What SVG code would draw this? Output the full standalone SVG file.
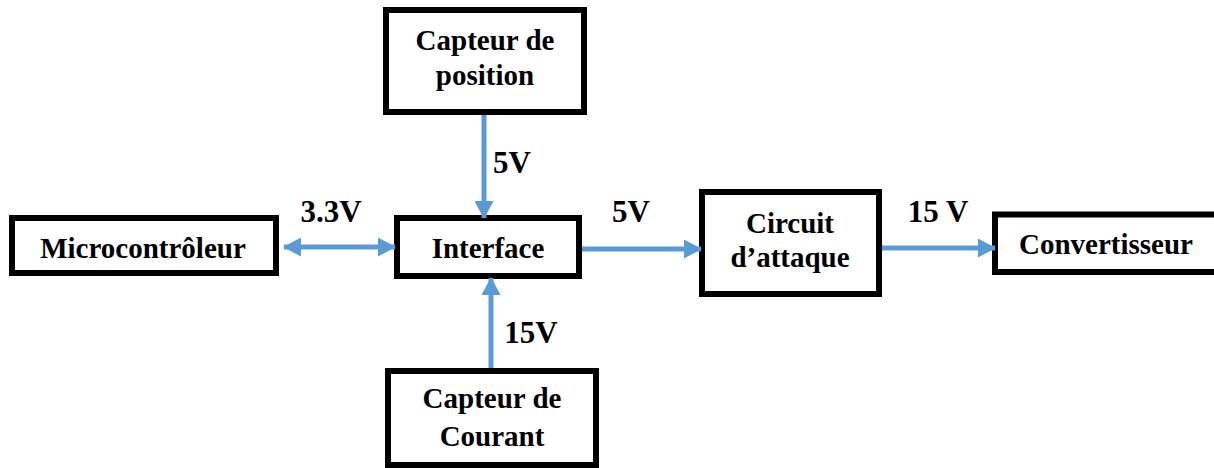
<svg xmlns="http://www.w3.org/2000/svg" width="1214" height="468" viewBox="0 0 1214 468">
  <style>
    .box { fill: #ffffff; stroke: #000000; stroke-width: 6; }
    text { font-family: 'Liberation Serif', 'DejaVu Serif', serif; font-weight: 700; fill: #000000; text-anchor: middle; }
    .txt { font-size: 29px; }
    .lbl { font-size: 31px; }
    .wire { stroke: #5B9BD5; stroke-width: 5; fill: none; }
  </style>
  <defs>
    <marker id="head" viewBox="0 0 18 19" refX="17" refY="9.5" markerWidth="18" markerHeight="19" markerUnits="userSpaceOnUse" orient="auto-start-reverse">
      <path d="M0,0 L18,9.5 L0,19 Z" fill="#5B9BD5"/>
    </marker>
  </defs>
  <rect width="1214" height="468" fill="#ffffff"/>

  <g id="microcontroleur">
    <rect class="box" x="12" y="218" width="264" height="55"/>
    <text class="txt" x="143" y="258" font-family="Liberation Serif, serif">Microcontrôleur</text>
  </g>

  <g id="interface">
    <rect class="box" x="397" y="218" width="182" height="58"/>
    <text class="txt" x="488" y="258" font-family="Liberation Serif, serif">Interface</text>
  </g>

  <g id="capteur-position">
    <rect class="box" x="386" y="10" width="198" height="102"/>
    <text class="txt" x="485" y="50" font-family="Liberation Serif, serif">Capteur de</text>
    <text class="txt" x="485" y="85" font-family="Liberation Serif, serif">position</text>
  </g>

  <g id="circuit-attaque">
    <rect class="box" x="702" y="192" width="177" height="102"/>
    <text class="txt" x="790" y="233" font-family="Liberation Serif, serif">Circuit</text>
    <text class="txt" x="790" y="267" font-family="Liberation Serif, serif">d’attaque</text>
  </g>

  <g id="convertisseur">
    <rect class="box" x="995" y="214.5" width="240" height="57.5"/>
    <text class="txt" x="1019" y="254" font-family="Liberation Serif, serif" style="text-anchor: start">Convertisseur</text>
  </g>

  <g id="capteur-courant">
    <rect class="box" x="388" y="371" width="208" height="94"/>
    <text class="txt" x="492" y="408" font-family="Liberation Serif, serif">Capteur de</text>
    <text class="txt" x="492" y="446" font-family="Liberation Serif, serif">Courant</text>
  </g>

  <g id="connectors">
    <line class="wire" x1="284" y1="247" x2="395" y2="247" marker-start="url(#head)" marker-end="url(#head)"/>
    <line class="wire" x1="582" y1="249" x2="701" y2="249" marker-end="url(#head)"/>
    <line class="wire" x1="882" y1="248" x2="995" y2="248" marker-end="url(#head)"/>
    <line class="wire" x1="484" y1="115" x2="484" y2="218" marker-end="url(#head)"/>
    <line class="wire" x1="491" y1="368" x2="491" y2="278" marker-end="url(#head)"/>
    <text class="lbl" x="331" y="222" font-family="Liberation Serif, serif">3.3V</text>
    <text class="lbl" x="631" y="222" font-family="Liberation Serif, serif">5V</text>
    <text class="lbl" x="938" y="222" font-family="Liberation Serif, serif">15 V</text>
    <text class="lbl" x="512" y="173" font-family="Liberation Serif, serif">5V</text>
    <text class="lbl" x="531" y="343" font-family="Liberation Serif, serif">15V</text>
  </g>
</svg>
